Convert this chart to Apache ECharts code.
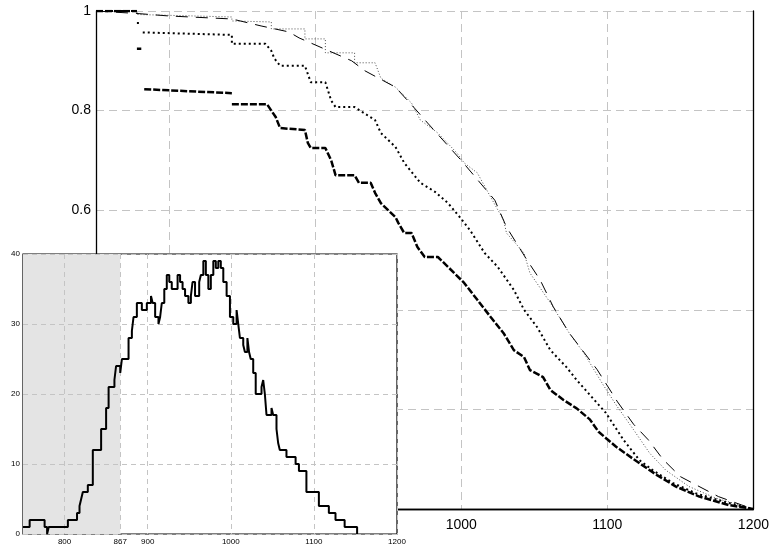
<!DOCTYPE html>
<html>
<head>
<meta charset="utf-8">
<script src="https://cdn.jsdelivr.net/npm/echarts@6/dist/echarts.min.js"></script>
<style>
  html, body { margin: 0; padding: 0; background: #fff; }
  #main { width: 772px; height: 548px; }
</style>
</head>
<body>
<div id="main"></div>
<script>
// main plot: survival curves, [x, y]; '-' breaks the line
const curveA = [[750,1],[778,0.995],[800,0.99],[843,0.984],[863,0.97],[882,0.958],[889,0.946],[925,0.90],[934,0.88],[955,0.847],[968,0.805],[977,0.775],[1000,0.70],[1023,0.62],[1031,0.566],[1045,0.5],[1054,0.46],[1063,0.406],[1074,0.353],[1093,0.28],[1107,0.215],[1118,0.17],[1128,0.139],[1138,0.10],[1150,0.065],[1161,0.048],[1176,0.025],[1192,0.008],[1200,0]];
const curveB = [[750,1],[778,1],[778,0.993],[843,0.988],[843,0.98],[870,0.978],[870,0.964],[893,0.964],[893,0.944],[907,0.944],[907,0.916],[927,0.916],[927,0.896],[941,0.896],[945,0.865],[955,0.847],[966,0.815],[972,0.781],[984,0.755],[997,0.715],[1002,0.695],[1011,0.675],[1020,0.627],[1029,0.58],[1031,0.554],[1043,0.514],[1047,0.474],[1061,0.414],[1074,0.353],[1084,0.313],[1097,0.25],[1106,0.209],[1118,0.159],[1129,0.112],[1140,0.078],[1156,0.045],[1174,0.022],[1200,0]];
const curveC = [[750,1],[778,1],[778,'-'],[778,0.976],[780,0.976],[780,'-'],[782,0.957],[843,0.952],[843,0.934],[866,0.934],[870,0.92],[872,0.905],[876,0.89],[893,0.89],[897,0.857],[907,0.857],[911,0.82],[914,0.807],[927,0.807],[941,0.781],[945,0.755],[955,0.727],[961,0.695],[972,0.655],[982,0.637],[991,0.614],[999,0.586],[1006,0.56],[1016,0.514],[1025,0.486],[1036,0.44],[1043,0.40],[1052,0.365],[1061,0.319],[1072,0.285],[1079,0.259],[1099,0.193],[1111,0.139],[1122,0.098],[1131,0.078],[1145,0.052],[1161,0.031],[1183,0.012],[1200,0]];
const curveD = [[750,1],[778,1],[778,'-'],[778,0.924],[781,0.924],[781,'-'],[783,0.843],[843,0.835],[843,'-'],[843,0.813],[867,0.813],[870,0.80],[873,0.787],[876,0.765],[893,0.761],[895,0.735],[897,0.725],[907,0.725],[911,0.70],[914,0.67],[927,0.67],[930,0.655],[938,0.655],[941,0.635],[945,0.614],[955,0.586],[957,0.574],[961,0.554],[966,0.554],[970,0.526],[975,0.506],[984,0.506],[991,0.486],[1002,0.454],[1011,0.42],[1020,0.386],[1029,0.353],[1036,0.319],[1043,0.305],[1047,0.279],[1056,0.265],[1061,0.239],[1070,0.219],[1079,0.202],[1088,0.18],[1094,0.155],[1106,0.125],[1118,0.10],[1134,0.068],[1147,0.045],[1163,0.025],[1183,0.008],[1200,0]];
const mainXTicks = [800, 900, 1000, 1100, 1200];

// inset histogram: left edge of each step and its count
const histX = [750,758,776,779,781,804,815,818,820,822,828,834,844,850,853,860,862,867,869,877,881,883,887,893,899,904,906,909,913,915,917,920,923,926,929,936,939,942,945,949,952,954,957,962,964,967,970,973,976,979,982,985,988,991,995,999,1003,1007,1009,1011,1015,1017,1020,1022,1024,1027,1030,1037,1039,1041,1043,1049,1051,1055,1057,1059,1067,1078,1082,1091,1106,1118,1126,1137,1152];
const histCount = [1,2,1,0,1,2,3,4,5,6,7,12,15,18,21,22,24,23,25,28,29,31,33,32,33,34,33,31,30,31,33,35,37,36,35,37,36,35,34,33,34,36,34,36,37,39,37,35,37,39,38,39,38,36,34,31,30,32,30,28,27,26,28,26,25,23,20,21,22,20,17,18,17,15,13,12,11,10,9,6,4,3,2,1,0];
const shadeRange = [750, 867];
const insetXTicks = [800, 867, 900, 1000, 1100, 1200];

const histData = histX.map((x, i) => [x, histCount[i]]);
const shadeData = shadeRange.map(x => [x, 40]);

const FONT = 'Liberation Sans, Arial, sans-serif';
const gridDash = { color: '#c4c4c4', width: 1, type: [8, 5] };
const insetDash = { color: '#c4c4c4', width: 1, type: [5, 4] };
const plain = v => String(v);
const frame = { show: true, lineStyle: { color: '#000', width: 1.3 } };

const chart = echarts.init(document.getElementById('main'));
chart.setOption({
  animation: false,
  backgroundColor: '#fff',
  grid: [
    { left: 96, right: 14, top: 11, bottom: 39, show: false },
    { left: 23, right: 375, top: 254, bottom: 14, show: true, backgroundColor: '#fff', borderColor: '#000', borderWidth: 1.2, z: 10 }
  ],
  xAxis: [
    {
      gridIndex: 0, type: 'value', min: 750, max: 1200, position: 'bottom', z: 1,
      axisLine: frame,
      axisTick: { show: false, customValues: mainXTicks },
      axisLabel: { customValues: mainXTicks, formatter: plain, fontSize: 14, color: '#000', fontFamily: FONT, margin: 9 },
      splitLine: { show: true, lineStyle: gridDash }
    },
    {
      gridIndex: 1, type: 'value', min: 750, max: 1200, z: 12,
      axisLine: { show: false },
      axisTick: { show: false, customValues: insetXTicks },
      axisLabel: { customValues: insetXTicks, formatter: plain, fontSize: 8, color: '#000', fontFamily: FONT, margin: 4 },
      splitLine: { show: true, lineStyle: insetDash }
    },
    {
      gridIndex: 0, type: 'value', min: 750, max: 1200, position: 'top', z: 1,
      axisLine: frame, axisTick: { show: false }, axisLabel: { show: false }, splitLine: { show: false }
    }
  ],
  yAxis: [
    {
      gridIndex: 0, type: 'value', min: 0, max: 1, interval: 0.2, position: 'left', z: 1,
      axisLine: frame,
      axisTick: { show: false },
      axisLabel: { formatter: plain, fontSize: 14, color: '#000', fontFamily: FONT, margin: 5 },
      splitLine: { show: true, lineStyle: gridDash }
    },
    {
      gridIndex: 1, type: 'value', min: 0, max: 40, interval: 10, z: 12,
      axisLine: { show: false },
      axisTick: { show: false },
      axisLabel: { fontSize: 8, color: '#000', fontFamily: FONT, margin: 3 },
      splitLine: { show: true, lineStyle: insetDash }
    },
    {
      gridIndex: 0, type: 'value', min: 0, max: 1, interval: 0.2, position: 'right', z: 1,
      axisLine: frame, axisTick: { show: false }, axisLabel: { show: false }, splitLine: { show: false }
    }
  ],
  series: [
    {
      type: 'line', xAxisIndex: 0, yAxisIndex: 0, data: curveA, showSymbol: false, z: 2,
      lineStyle: { color: '#000', width: 1, type: [12, 8] }
    },
    {
      type: 'line', xAxisIndex: 0, yAxisIndex: 0, data: curveB, showSymbol: false, z: 2,
      lineStyle: { color: '#222', width: 0.8, type: [1, 2] }
    },
    {
      type: 'line', xAxisIndex: 0, yAxisIndex: 0, data: curveC, showSymbol: false, z: 2,
      lineStyle: { color: '#000', width: 2, type: [2, 3] }
    },
    {
      type: 'line', xAxisIndex: 0, yAxisIndex: 0, data: curveD, showSymbol: false, z: 2,
      lineStyle: { color: '#000', width: 2.5, type: [7, 2] }
    },
    {
      type: 'line', xAxisIndex: 1, yAxisIndex: 1, data: shadeData, showSymbol: false, z: 11,
      lineStyle: { width: 0 }, areaStyle: { color: '#e4e4e4', opacity: 1 }
    },
    {
      type: 'line', xAxisIndex: 1, yAxisIndex: 1, data: histData, step: 'end', showSymbol: false, z: 13,
      lineStyle: { color: '#000', width: 2 }
    }
  ]
});
</script>
</body>
</html>
